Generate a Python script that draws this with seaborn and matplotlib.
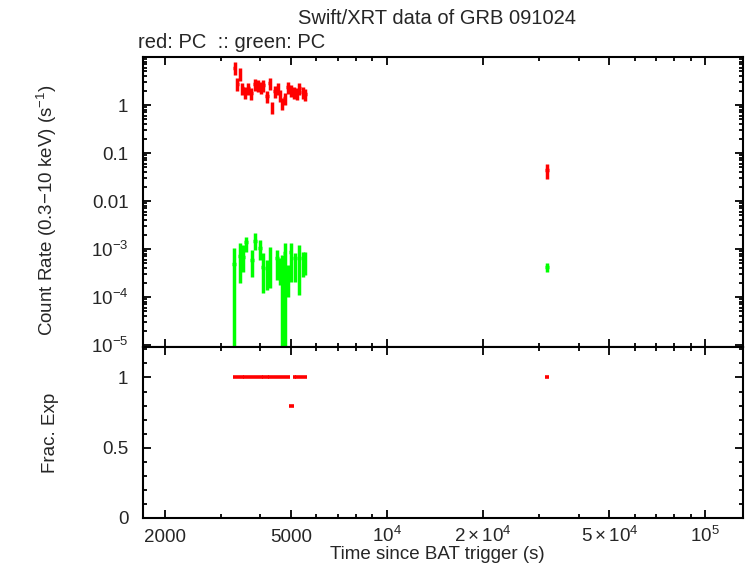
import numpy as np
import pandas as pd
import matplotlib
matplotlib.use("Agg")
import matplotlib.pyplot as plt
import seaborn as sns
from matplotlib.ticker import FixedLocator, FixedFormatter, LogLocator, MultipleLocator, NullFormatter

# --- data ---
# red: PC
red_t = [3320, 3380, 3450, 3510, 3580, 3670, 3750, 3840, 3930, 4030, 4090, 4190, 4280,
         4350, 4440, 4540, 4610, 4680, 4770, 4880, 5010, 5110, 5200, 5310, 5430, 5540, 31840]
red_xerr = [40, 35, 35, 35, 40, 50, 45, 45, 50, 50, 40, 60, 40,
            40, 50, 50, 35, 45, 45, 80, 90, 50, 50, 60, 60, 55, 460]
red_rate = [6.0, 2.8, 4.5, 2.26, 1.87, 2.26, 1.78, 2.74, 2.61, 2.37, 2.61, 1.54, 2.87,
            0.91, 1.96, 2.26, 1.62, 1.10, 1.40, 2.37, 2.05, 1.87, 1.78, 2.26, 1.87, 1.70, 0.044]
red_err = [1.7, 0.8, 1.3, 0.63, 0.52, 0.63, 0.5, 0.77, 0.73, 0.66, 0.73, 0.43, 0.8,
           0.25, 0.55, 0.63, 0.45, 0.31, 0.39, 0.66, 0.57, 0.52, 0.5, 0.63, 0.52, 0.48, 0.015]
red_frac = [1, 1, 1, 1, 1, 1, 1, 1, 1, 1, 1, 1, 1,
            1, 1, 1, 1, 1, 1, 1, 0.8, 1, 1, 1, 1, 1, 1]

# green: PC
green_t = [3305, 3451, 3527, 3603, 3760, 3846, 3988, 4074, 4198, 4289,
           4512, 4613, 4677, 4778, 4885, 4990, 5139, 5309, 5445, 5521, 31840]
green_xerr = [45, 50, 40, 45, 55, 45, 60, 45, 55, 45,
              50, 45, 35, 50, 50, 55, 70, 60, 45, 40, 460]
green_rate = [4.9, 7.1, 6.9, 14, 5.9, 15, 10.5, 4.2, 4.0, 6.9,
              6.5, 3.6, 3.3, 8.3, 3.6, 8.7, 6.6, 6.6, 5.9, 5.9, 4.2]      # x 1e-4
green_hi = [5.65, 6.15, 5.37, 3.79, 3.63, 7.02, 4.91, 4.02, 1.87, 4.25,
            3.04, 2.80, 4.16, 5.11, 0.98, 4.70, 1.79, 5.72, 2.76, 2.76, 1.0]
green_lo = [4.9, 5.15, 3.54, 5.33, 3.29, 5.25, 4.60, 2.99, 2.61, 5.34,
            4.24, 1.85, 3.3, 8.3, 2.61, 6.64, 4.51, 5.48, 3.29, 3.03, 0.8]

red = pd.DataFrame({"t": red_t, "xerr": red_xerr, "rate": red_rate,
                    "err": red_err, "frac": red_frac})
green = pd.DataFrame({"t": green_t, "xerr": green_xerr,
                      "rate": np.array(green_rate) * 1e-4,
                      "hi": np.array(green_hi) * 1e-4,
                      "lo": np.array(green_lo) * 1e-4})

sns.set_style("ticks")
plt.rcParams["font.family"] = ["Liberation Sans", "DejaVu Sans"]
plt.rcParams["mathtext.fontset"] = "custom"
plt.rcParams["mathtext.rm"] = "Liberation Sans"
plt.rcParams["mathtext.it"] = "Liberation Sans:italic"
plt.rcParams["mathtext.default"] = "rm"
fs = 13.5

W, H = 746, 568
fig = plt.figure(figsize=(W / 100, H / 100), dpi=100)
ax1 = fig.add_axes([143 / W, 1 - 347 / H, 600 / W, 290 / H])
ax2 = fig.add_axes([143 / W, 1 - 518 / H, 600 / W, 171 / H], sharex=ax1)

# top panel: count rate
ax1.errorbar(red["t"], red["rate"], xerr=red["xerr"], yerr=red["err"],
             fmt="none", ecolor="#ff0000", elinewidth=2.5, capsize=0)
ax1.errorbar(green["t"], green["rate"], xerr=green["xerr"],
             yerr=[green["lo"], green["hi"]],
             fmt="none", ecolor="#00ff00", elinewidth=2.5, capsize=0)
ax1.set_xscale("log")
ax1.set_yscale("log")
ax1.set_xlim(1711, 131500)
ax1.set_ylim(9.1e-6, 10)
ax1.yaxis.set_major_locator(FixedLocator([1e-5, 1e-4, 1e-3, 1e-2, 1e-1, 1]))
ax1.yaxis.set_major_formatter(FixedFormatter(
    [r"$10^{-5}$", r"$10^{-4}$", r"$10^{-3}$", "0.01", "0.1", "1"]))
ax1.yaxis.set_minor_locator(LogLocator(base=10, subs=np.arange(2, 10), numticks=20))
ax1.yaxis.set_minor_formatter(NullFormatter())
ax1.set_ylabel(r"Count Rate (0.3$-$10 keV) (s$^{-1}$)", fontsize=13.5)
ax1.yaxis.set_label_coords(-0.140, 0.472)
ax1.tick_params(labelbottom=False)

# bottom panel: fractional exposure
ax2.errorbar(red["t"], red["frac"], xerr=red["xerr"],
             fmt="none", ecolor="#ff0000", elinewidth=2.6, capsize=0)
ax2.set_ylim(0, 1.217)
ax2.yaxis.set_major_locator(FixedLocator([0, 0.5, 1]))
ax2.yaxis.set_major_formatter(FixedFormatter(["0", "0.5", "1"]))
ax2.yaxis.set_minor_locator(MultipleLocator(0.1))
ax2.set_ylabel("Frac. Exp", fontsize=13.5)
ax2.yaxis.set_label_coords(-0.140, 0.5)

xmaj = [2000, 5000, 1e4, 2e4, 5e4, 1e5]
ax2.xaxis.set_major_locator(FixedLocator(xmaj))
ax2.xaxis.set_major_formatter(FixedFormatter(
    ["2000", "5000", r"$10^4$", r"$2\times10^4$", r"$5\times10^4$", r"$10^5$"]))
ax2.xaxis.set_minor_locator(LogLocator(base=10, subs=np.arange(2, 10), numticks=20))
ax2.xaxis.set_minor_formatter(NullFormatter())
ax2.set_xlabel("Time since BAT trigger (s)", fontsize=13.5)
ax2.xaxis.set_label_coords(0.49, -0.165)

for ax in (ax1, ax2):
    for s in ax.spines.values():
        s.set_linewidth(1.5)
        s.set_color("black")
    ax.tick_params(which="both", direction="in", top=True, right=True,
                   labelsize=fs, width=1.3, color="black")
    ax.tick_params(which="major", length=6, pad=10.5)
    ax.tick_params(which="minor", length=3)
ax2.tick_params(axis="x", which="major", pad=17)
for tick in ax2.xaxis.get_major_ticks():
    tick.label1.set_verticalalignment("baseline")

fig.text(437 / W, 1 - 18 / H, "Swift/XRT data of GRB 091024",
         ha="center", va="center", fontsize=14.5)
fig.text(138 / W, 1 - 43 / H, "red: PC  :: green: PC",
         ha="left", va="center", fontsize=14.5)

fig.savefig("out.png", dpi=100)
